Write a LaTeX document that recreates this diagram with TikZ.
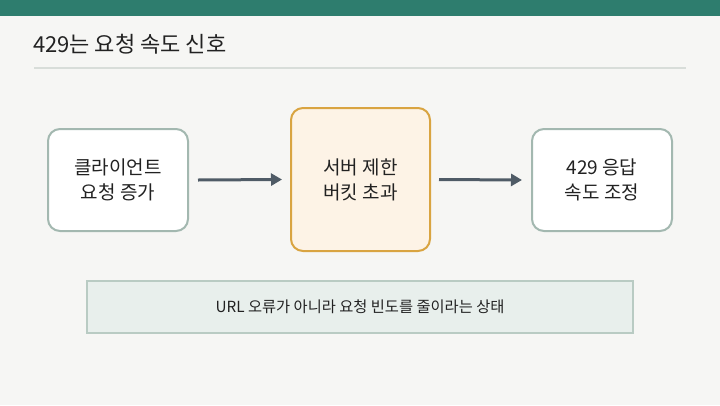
\documentclass[tikz,border=0pt]{standalone}
\usepackage{fontspec}
\setmainfont{Noto Sans CJK KR}
\usetikzlibrary{arrows.meta}
\definecolor{bg}{HTML}{F6F6F4}
\definecolor{topbar}{HTML}{2E7D6E}
\definecolor{sepline}{HTML}{D8DDD9}
\definecolor{boxline}{HTML}{A3B8B0}
\definecolor{midfill}{HTML}{FDF3E6}
\definecolor{midline}{HTML}{D9A441}
\definecolor{arrowc}{HTML}{4F5B66}
\definecolor{notefill}{HTML}{E8EFEC}
\definecolor{noteline}{HTML}{B9CBC3}
\definecolor{textc}{HTML}{222222}
\tikzset{
  sidebox/.style={draw=boxline, line width=2pt, fill=white, rounded corners=12pt, minimum width=140pt, minimum height=102pt, align=center, font=\fontsize{19}{25}\selectfont, text=textc},
  midbox/.style={draw=midline, line width=2pt, fill=midfill, rounded corners=12pt, minimum width=139pt, minimum height=143pt, align=center, font=\fontsize{19}{25}\selectfont, text=textc},
  notebox/.style={draw=noteline, line width=2pt, fill=notefill, minimum width=546pt, minimum height=52pt, font=\fontsize{15.3}{18}\selectfont, text=textc},
  flow/.style={draw=arrowc, line width=3pt, -{Triangle[length=11pt,width=12pt]}}
}
\begin{document}
\begin{tikzpicture}[x=1pt,y=1pt]
\useasboundingbox (0,0) rectangle (720,-405);
\fill[bg] (0,0) rectangle (720,-405);
\fill[topbar] (0,0) rectangle (720,-16);
\node[anchor=west, font=\fontsize{22}{26}\selectfont, text=textc, inner sep=0pt] (title) at (33,-44) {429는 요청 속도 신호};
\draw[sepline, line width=2pt] (34,-68) -- (686,-68);
\node[sidebox] (client) at (118,-180) {클라이언트\\요청 증가};
\node[midbox] (server) at (360.5,-179.5) {서버 제한\\버킷 초과};
\node[sidebox] (resp) at (602,-180) {429 응답\\속도 조정};
\node[notebox] (note) at (360,-307) {URL 오류가 아니라 요청 빈도를 줄이라는 상태};
\draw[flow] ([xshift=9pt]client.east) -- ([xshift=-8pt]server.west);
\draw[flow] ([xshift=8pt]server.east) -- ([xshift=-9pt]resp.west);
\end{tikzpicture}
\end{document}
